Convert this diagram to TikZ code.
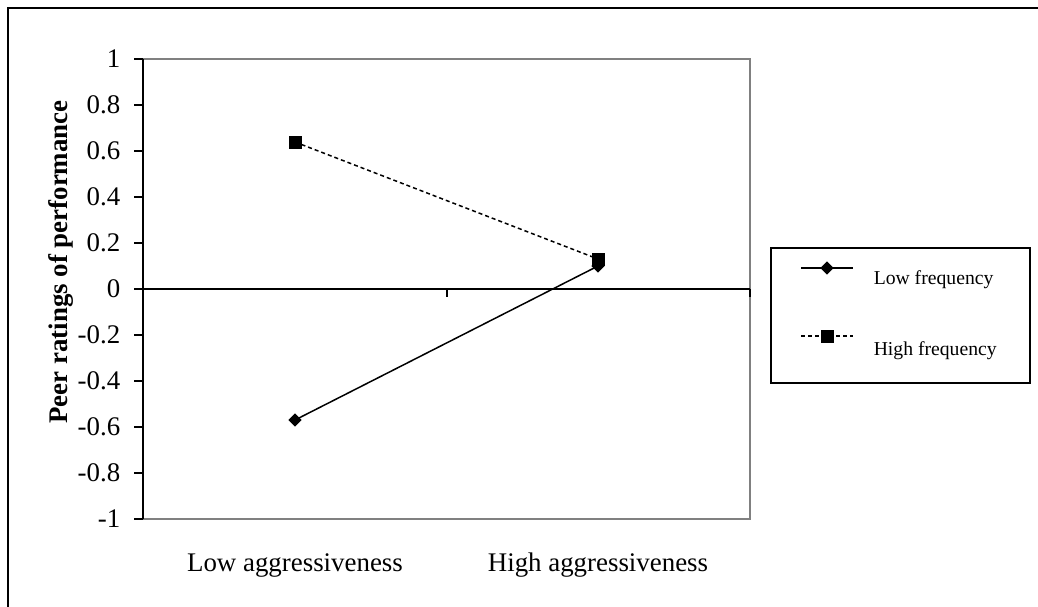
\documentclass[tikz,border=0pt]{standalone}
\usepackage{fontspec}
\setmainfont{Liberation Serif}
\usepackage{tikz}
\usetikzlibrary{shapes.geometric}
\definecolor{frame}{RGB}{128, 128, 128}

\begin{document}
\begin{tikzpicture}[x=0.02cm, y=-0.02cm, line width=0.85pt,
  ticklabel/.style={font=\fontsize{15.3}{18}\selectfont, inner sep=0, anchor=east},
  catlabel/.style={font=\fontsize{15.3}{18}\selectfont, inner sep=0, anchor=base},
  legtext/.style={font=\fontsize{11.2}{13}\selectfont, inner sep=0, anchor=base west},
  sqmark/.style={rectangle, fill=black, inner sep=0, minimum size=0.26cm},
  diamark/.style={diamond, fill=black, inner sep=0, minimum width=0.28cm, minimum height=0.28cm},
  hidash/.style={dash pattern=on 2.3pt off 1.7pt}]
  \useasboundingbox (0, 0) rectangle (1038, 606);

  % outer frame, only its left and top show
  \draw [line width=1.2pt] (8, 8) rectangle (1060, 630);

  % plot area
  \draw [frame, line width=0.6pt] (143, 59) -- (750, 59) -- (750, 519) -- (143, 519);
  \draw [line width=1.1pt] (143, 59) -- (143, 519);
  \foreach \v/\lab [count=\i] in {1/1, 0.8/0.8, 0.6/0.6, 0.4/0.4, 0.2/0.2, 0/0,
      -0.2/-0.2, -0.4/-0.4, -0.6/-0.6, -0.8/-0.8, -1/-1} {
    \draw (134, {289-230*\v}) -- (143, {289-230*\v});
    \node [ticklabel] (y\i) at (121, {289-230*\v}) {\lab};
  }
  \draw [line width=1.1pt] (134, 289) -- (750, 289);
  \foreach \x in {143, 447, 750}
    \draw (\x, 289) -- (\x, 297);

  \node [catlabel] (lowagg) at (295, 571) {Low aggressiveness};
  \node [catlabel] (highagg) at (598, 571) {High aggressiveness};

  \node [rotate=90, anchor=base, inner sep=0, font=\fontsize{15.3}{18}\selectfont\bfseries]
    (ylab) at (67, 262) {Peer ratings of performance};

  % data
  \coordinate (hlo) at (295, 142);
  \coordinate (hhi) at (598, 259);
  \coordinate (llo) at (295, 420);
  \coordinate (lhi) at (598, 266);
  \draw [hidash] (hlo) -- (hhi);
  \draw (llo) -- (lhi);
  \node [diamark] (llom) at (llo) {};
  \node [diamark] (lhim) at (lhi) {};
  \node [sqmark] (hlom) at (hlo) {};
  \node [sqmark] (hhim) at (hhi) {};

  % legend
  \node [draw, inner sep=0, minimum width=5.18cm, minimum height=2.7cm] (legend) at (900.5, 315.5) {};
  \coordinate (la) at (801, 268);
  \coordinate (lb) at (853, 268);
  \coordinate (ha) at (801, 336);
  \coordinate (hb) at (853, 336);
  \draw (la) -- (lb);
  \draw [hidash] (ha) -- (hb);
  \node [diamark] (lmark) at (827, 268) {};
  \node [sqmark] (hmark) at (827, 336) {};
  \node [legtext] (ltext) at (873, 284) {Low frequency};
  \node [legtext] (htext) at (873, 355) {High frequency};

\end{tikzpicture}
\end{document}
